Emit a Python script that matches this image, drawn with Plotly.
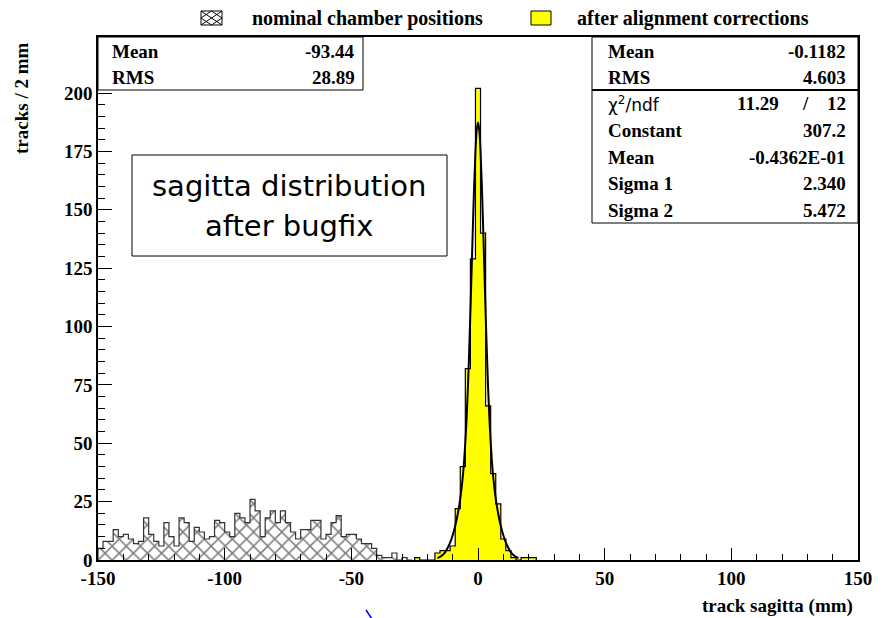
import plotly.graph_objects as go

# ---------------- data ----------------
# "nominal chamber positions" histogram (2 mm bins, first bin starts at -150)
nominal_counts = [5, 8, 8, 13, 10, 11, 9, 7, 8, 18,
                  11, 8, 6, 16, 10, 6, 18, 16, 8, 14,
                  12, 9, 10, 17, 16, 12, 10, 20, 18, 16,
                  26, 21, 10, 18, 21, 16, 21, 16, 12, 9,
                  13, 13, 17, 17, 9, 11, 16, 19, 10, 11,
                  11, 9, 7, 7, 5, 2, 1, 1, 3, 0, 1, 0]
nominal_start = -150
bin_w = 2

# "after alignment corrections" histogram (bin centres in mm)
aligned_centers = [-24, -22, -20, -18, -16, -14, -12, -10, -8, -6, -4, -2, 0,
                   2, 4, 6, 8, 10, 12, 14, 16, 18, 20, 22]
aligned_counts = [1, 0, 0, 0, 3, 4, 4, 6, 22, 40, 82, 129, 202,
                  140, 66, 37, 24, 9, 4, 1, 0, 1, 1, 1]

# fitted double-gaussian curve
fit_x = [-16, -15, -14, -13, -12, -11, -10, -9, -8, -7, -6, -5.5, -5, -4.5, -4,
         -3.5, -3, -2.5, -2, -1.5, -1, -0.5, 0, 0.5, 1, 1.5, 2, 2.5, 3, 3.5,
         4, 4.5, 5, 5.5, 6, 7, 8, 9, 10, 11, 12, 13, 14, 15, 16]
fit_y = [0.8, 1.3, 2.1, 3.3, 5.1, 7.4, 10.6, 14.6, 19.7, 26.3, 35.7, 42.2, 50.4,
         60.7, 73.5, 88.7, 106.0, 124.8, 143.6, 161.0, 175.1, 184.2, 187.4,
         184.2, 175.1, 161.0, 143.6, 124.8, 106.0, 88.7, 73.5, 60.7, 50.4, 42.2,
         35.7, 26.3, 19.7, 14.6, 10.6, 7.4, 5.1, 3.3, 2.1, 1.3, 0.8]

x_ticks = [-150, -100, -50, 0, 50, 100, 150]
y_ticks = [0, 25, 50, 75, 100, 125, 150, 175, 200]

stats_left = [("Mean", "-93.44"), ("RMS", "28.89")]
stats_right_top = [("Mean", "-0.1182"), ("RMS", "4.603")]
stats_fit = [("Constant", "307.2"), ("Mean", "-0.4362E-01"),
             ("Sigma 1", "2.340"), ("Sigma 2", "5.472")]
chi2 = ("11.29", "12")

# ---------------- helpers ----------------
W, H = 885, 618
OFF = 8                      # page body margin of the html page
L, R, T, B = 98, 858, 37, 560  # plot frame in screen pixels


def pxx(x):
    return (x - L) / (R - L)


def pxy(y):
    return (B - y) / (B - T)


def step_xy(centers, counts, width):
    xs = [centers[0] - width / 2]
    ys = [0]
    for c, v in zip(centers, counts):
        xs.append(c - width / 2)
        ys.append(v)
    xs.append(centers[-1] + width / 2)
    ys.append(counts[-1])
    xs.append(centers[-1] + width / 2)
    ys.append(0)
    return xs, ys


nominal_centers = [nominal_start + bin_w / 2 + bin_w * i for i in range(len(nominal_counts))]

SERIF = "Liberation Serif"
fig = go.Figure()

fig.add_trace(go.Bar(
    x=nominal_centers, y=nominal_counts, width=bin_w,
    marker=dict(color="white", line=dict(width=0),
                pattern=dict(shape="x", size=10, solidity=0.28,
                             fgcolor="black", bgcolor="white")),
    showlegend=False, hoverinfo="skip"))
sx, sy = step_xy(nominal_centers, nominal_counts, bin_w)
fig.add_trace(go.Scatter(x=sx, y=sy, mode="lines", line=dict(color="#333333", width=1.2, shape="hv"),
                         showlegend=False, hoverinfo="skip"))

fig.add_trace(go.Bar(
    x=aligned_centers, y=aligned_counts, width=bin_w,
    marker=dict(color="#ffff00", line=dict(width=0)),
    showlegend=False, hoverinfo="skip"))
ax_, ay_ = step_xy(aligned_centers, aligned_counts, bin_w)
fig.add_trace(go.Scatter(x=ax_, y=ay_, mode="lines", line=dict(color="black", width=1.2, shape="hv"),
                         showlegend=False, hoverinfo="skip"))

fig.add_trace(go.Scatter(x=fit_x, y=fit_y, mode="lines",
                         line=dict(color="black", width=2, shape="spline"),
                         showlegend=False, hoverinfo="skip"))

shapes = []
annotations = []


def text(x, y, s, size=19, anchor="left", family=SERIF, weight="bold", yanchor="middle"):
    annotations.append(dict(x=pxx(x), y=pxy(y), xref="paper", yref="paper", text=s,
                            showarrow=False, xanchor=anchor, yanchor=yanchor,
                            font=dict(family=family, size=size, color="black", weight=weight)))


def rect(x0, y0, x1, y1, fill="white", lw=1):
    shapes.append(dict(type="rect", xref="paper", yref="paper",
                       x0=pxx(x0), x1=pxx(x1), y0=pxy(y1), y1=pxy(y0),
                       fillcolor=fill, line=dict(color="black", width=lw), layer="above"))


def line(x0, y0, x1, y1, color="black", lw=1):
    shapes.append(dict(type="line", xref="paper", yref="paper",
                       x0=pxx(x0), x1=pxx(x1), y0=pxy(y0), y1=pxy(y1),
                       line=dict(color=color, width=lw), layer="above"))


# stats box left (nominal)
rect(L, T, 363, 90)
for i, (k, v) in enumerate(stats_left):
    text(110, 52 + 26 * i, k)
    text(357, 52 + 26 * i, v, anchor="right")

# stats box right (aligned + fit)
rect(592, T, R, 223)
line(592, 90, R, 90, lw=2)
for i, (k, v) in enumerate(stats_right_top):
    text(606, 52 + 26 * i, k)
    text(848, 52 + 26 * i, v, anchor="right")
text(606, 104, "χ<sup>2</sup>/ndf", size=17, family="DejaVu Sans", weight="normal")
text(781, 104, chi2[0], anchor="right")
text(805, 104, "/", anchor="center")
text(848, 104, chi2[1], anchor="right")
for i, (k, v) in enumerate(stats_fit):
    text(606, 131 + 26.5 * i, k)
    text(848, 131 + 26.5 * i, v, anchor="right")

# title box
rect(132, 155, 447, 256)
text(289, 186, "sagitta distribution", size=29, family="DejaVu Sans", weight="normal", anchor="center")
text(289, 226, "after bugfix", size=29, family="DejaVu Sans", weight="normal", anchor="center")

# legend
rect(201, 11, 222, 25)
line(201, 11, 222, 25)
line(201, 25, 222, 11)
line(211.5, 11, 201, 18)
line(211.5, 11, 222, 18)
line(201, 18, 211.5, 25)
line(222, 18, 211.5, 25)
text(250, 18, "nominal chamber positions", size=20)
rect(531, 11, 551, 25, fill="#ffff00")
text(575, 18, "after alignment corrections", size=20)

# axis titles
annotations.append(dict(x=pxx(22), y=pxy(98), xref="paper", yref="paper",
                        text="tracks / 2 mm", textangle=-90, showarrow=False,
                        xanchor="center", yanchor="middle",
                        font=dict(family=SERIF, size=19, color="black", weight="bold")))
text(855, 606, "track sagitta (mm)", anchor="right")

# small blue stroke below the axis
line(366, 610, 372, 619, color="#0000ff", lw=1.5)

fig.update_layout(
    width=W, height=H, autosize=False,
    margin=dict(l=L - OFF, r=W - (R - OFF), t=T - OFF, b=H - (B - OFF)),
    paper_bgcolor="white", plot_bgcolor="white",
    barmode="overlay", bargap=0,
    shapes=shapes, annotations=annotations,
    xaxis=dict(range=[-150, 150], tickvals=x_ticks, ticktext=[str(v) for v in x_ticks],
               ticks="inside", ticklen=12, tickwidth=1, tickcolor="black",
               minor=dict(dtick=10, ticks="inside", ticklen=6, tickcolor="black"),
               showline=True, linecolor="black", linewidth=1.5, mirror=True,
               showgrid=False, zeroline=False,
               tickfont=dict(family=SERIF, size=19, color="black", weight="bold")),
    yaxis=dict(range=[0, 224], tickvals=y_ticks, ticktext=[str(v) for v in y_ticks],
               ticks="inside", ticklen=14, tickwidth=1, tickcolor="black",
               minor=dict(dtick=5, ticks="inside", ticklen=7, tickcolor="black"),
               showline=True, linecolor="black", linewidth=1.5, mirror=True,
               showgrid=False, zeroline=False,
               tickfont=dict(family=SERIF, size=19, color="black", weight="bold")),
)

fig.write_html("out.html")
